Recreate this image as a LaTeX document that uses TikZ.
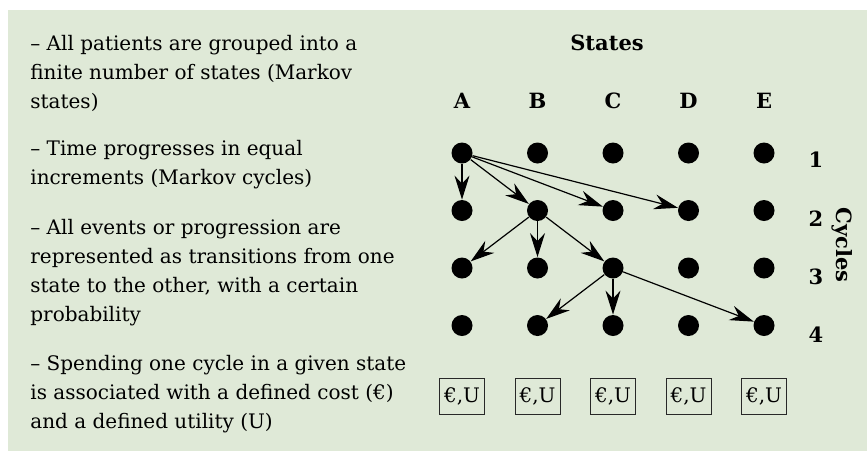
\documentclass[tikz,border=0pt]{standalone}
\usepackage{fontspec}
\setmainfont{DejaVu Serif}
\usepackage{tikz}
\usetikzlibrary{arrows.meta, positioning}
\usepackage{xcolor}
\definecolor{palegreen}{RGB}{223,233,215}
\definecolor{boxgray}{RGB}{40,40,40}

\tikzset{
  state/.style={circle, fill=black, inner sep=0pt, minimum size=10.5pt},
  trans/.style={-{Stealth[length=12pt, width=7.5pt, inset=4pt]}, line width=0.6pt},
  reward/.style={draw=boxgray, line width=0.5pt, minimum width=22.5pt,
    minimum height=18pt, inner sep=0pt, font=\fontsize{10}{12}\selectfont},
  bullet/.style={anchor=base west, align=left, inner sep=0pt,
    font=\fontsize{10}{14.5}\selectfont},
  head/.style={font=\bfseries\fontsize{10.5}{12}\selectfont}
}

\begin{document}
\begin{tikzpicture}[x=0.5pt, y=-0.5pt]
\useasboundingbox (0,0) rectangle (867,451);
\fill[palegreen] (8,10) rectangle (867,451);

% Left: what a Markov model assumes (placed by last baseline)
\node[bullet] (p1) at (30,108) {-- All patients are grouped into a\\finite number of states (Markov\\states)};
\node[bullet] (p2) at (30,184) {-- Time progresses in equal\\increments (Markov cycles)};
\node[bullet] (p3) at (30,321) {-- All events or progression are\\represented as transitions from one\\state to the other, with a certain\\probability};
\node[bullet] (p4) at (30,428) {-- Spending one cycle in a given state\\is associated with a defined cost (€)\\and a defined utility (U)};

% Right: states by cycles
\node[head, anchor=base] (states) at (607,50) {States};
\foreach \s/\x in {A/462, B/537.5, C/613, D/688.5, E/764} {
  \node[head, anchor=base] (lab\s) at (\x,108) {\s};
  \foreach \c/\y in {1/153, 2/210.5, 3/268, 4/325.5}
    \node[state] (\s\c) at (\x,\y) {};
  \node[reward] (cost\s) at (\x,396) {€,U};
}
\foreach \c/\y in {1/167, 2/226, 3/284, 4/342}
  \node[head, anchor=base] (cyc\c) at (816,\y) {\c};
\node[head, rotate=-90] (cycles) at (842,245) {Cycles};

% transitions
\draw[trans] (A1) -- (A2);
\draw[trans] (A1) -- (B2);
\draw[trans] (A1) -- (C2);
\draw[trans] (A1) -- (D2);
\draw[trans] (B2) -- (A3);
\draw[trans] (B2) -- (B3);
\draw[trans] (B2) -- (C3);
\draw[trans] (C3) -- (B4);
\draw[trans] (C3) -- (C4);
\draw[trans] (C3) -- (E4);

\end{tikzpicture}
\end{document}
